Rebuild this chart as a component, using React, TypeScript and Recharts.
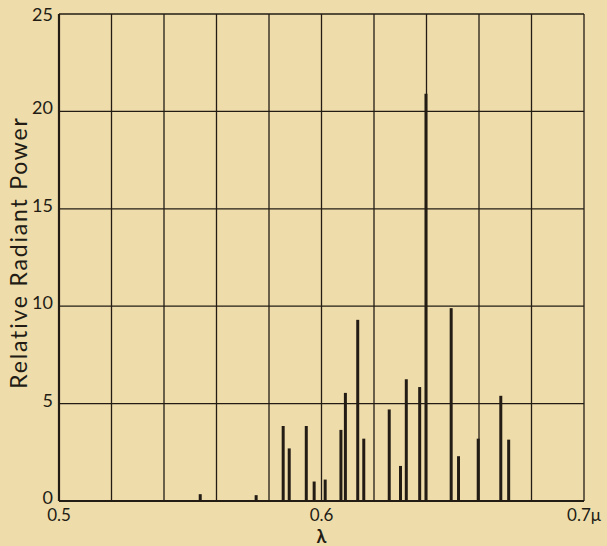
import React from 'react';
import { BarChart, Bar, XAxis, YAxis, CartesianGrid } from 'recharts';

// wavelength of each line (μ) and its relative radiant power
const wavelengths = [
  0.5537, 0.575, 0.5853, 0.5876, 0.5941, 0.5971, 0.6013, 0.6073, 0.609, 0.6137, 0.616,
  0.6257, 0.63, 0.6322, 0.6373, 0.6397, 0.6493, 0.6521, 0.6596, 0.6682, 0.6712,
];
const powers = [
  0.35, 0.3, 3.85, 2.7, 3.85, 1.0, 1.1, 3.65, 5.55, 9.3, 3.2,
  4.7, 1.8, 6.25, 5.85, 20.9, 9.9, 2.3, 3.2, 5.4, 3.15,
];

const xTicks = [0.5, 0.52, 0.54, 0.56, 0.58, 0.6, 0.62, 0.64, 0.66, 0.68, 0.7];
const xTickLabels: Record<string, string> = { '0.5': '0.5', '0.6': '0.6', '0.7': '0.7μ' };
const yTicks = [0, 5, 10, 15, 20, 25];

const INK = '#221c15';
const PAPER = '#efdcab';
const FONT = 'Lato, "Open Sans", sans-serif';

const data = wavelengths.map((wl, i) => ({ wl, power: powers[i] }));

// y tick labels sit a little high, except the top one which must stay on the page
const YTick = ({ x, y, payload }: any) => (
  <text
    x={x}
    y={y + (payload.value === 25 ? 0 : -4)}
    textAnchor="end"
    dominantBaseline="central"
    fill={INK}
    fontSize={18}
    fontFamily={FONT}
  >
    {payload.value}
  </text>
);

export default function App() {
  return (
    <div style={{ position: 'absolute', left: 0, top: 0, width: 607, height: 546, background: PAPER }}>
      <BarChart
        width={607}
        height={546}
        data={data}
        margin={{ top: 14, right: 23, bottom: 0, left: 0 }}
        style={{ fontFamily: FONT }}
      >
        <CartesianGrid stroke={INK} strokeWidth={1.3} horizontalValues={yTicks} verticalValues={xTicks} />
        <XAxis
          dataKey="wl"
          type="number"
          domain={[0.5, 0.7]}
          ticks={xTicks}
          interval={0}
          height={45}
          tickSize={0}
          tickMargin={8}
          axisLine={{ stroke: INK, strokeWidth: 2.2 }}
          tick={{ fill: INK, fontSize: 17, fontFamily: FONT }}
          tickFormatter={(v: number) => xTickLabels[String(v)] ?? ''}
          label={({ viewBox }: any) => (
            <text
              x={viewBox.x + viewBox.width / 2}
              y={536}
              textAnchor="middle"
              dominantBaseline="central"
              fill={INK}
              fontSize={18}
              fontFamily={FONT}
              fontWeight="bold"
            >
              λ
            </text>
          )}
        />
        <YAxis
          type="number"
          domain={[0, 25]}
          ticks={yTicks}
          interval={0}
          width={59}
          tickSize={0}
          tickMargin={6}
          axisLine={{ stroke: INK, strokeWidth: 2.2 }}
          tick={<YTick />}
          label={({ viewBox }: any) => (
            <text
              x={18}
              y={viewBox.y + viewBox.height / 2 - 5}
              transform={`rotate(-90, 18, ${viewBox.y + viewBox.height / 2 - 5})`}
              textAnchor="middle"
              dominantBaseline="central"
              fill={INK}
              fontSize={23}
              letterSpacing={1.8}
              fontFamily={FONT}
            >
              Relative Radiant Power
            </text>
          )}
        />
        <Bar dataKey="power" fill={INK} barSize={3} isAnimationActive={false} />
      </BarChart>
    </div>
  );
}
